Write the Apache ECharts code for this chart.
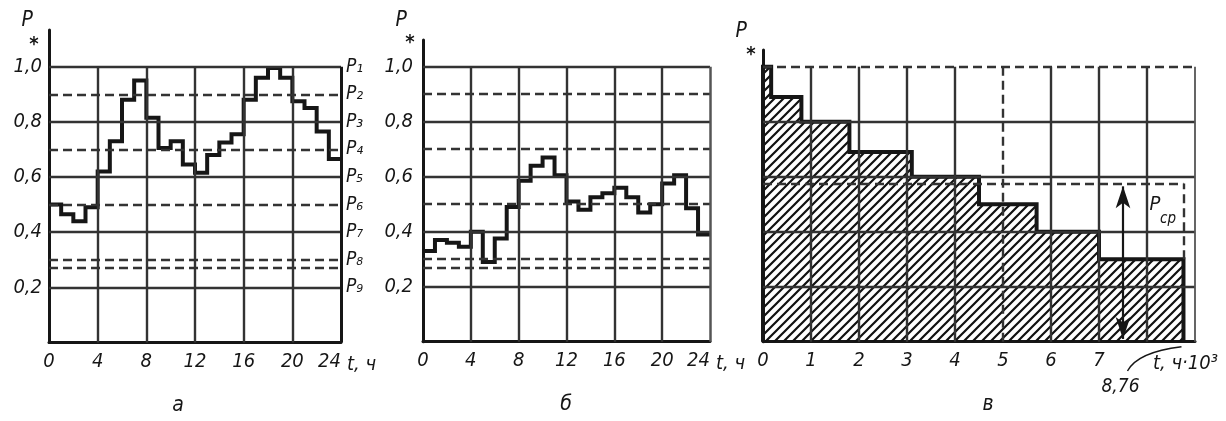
<!DOCTYPE html>
<html><head><meta charset="utf-8">
<script src="https://cdn.jsdelivr.net/npm/echarts@6/dist/echarts.min.js"></script>
<style>html,body{margin:0;padding:0;background:#fff}#c{width:1226px;height:421px}</style>
</head><body><div id="c"></div>
<script>
// ---------- data ----------
const hours = [0,1,2,3,4,5,6,7,8,9,10,11,12,13,14,15,16,17,18,19,20,21,22,23,24];
// panel а: daily load, P* per hour
const loadA = [0.50,0.465,0.44,0.49,0.62,0.73,0.88,0.95,0.815,0.705,0.73,0.645,0.615,0.68,0.725,0.755,0.88,0.96,0.995,0.96,0.875,0.85,0.765,0.665];
// panel б: daily load, P* per hour
const loadB = [0.33,0.37,0.36,0.345,0.40,0.29,0.375,0.49,0.585,0.64,0.67,0.605,0.51,0.48,0.525,0.54,0.56,0.525,0.47,0.50,0.575,0.605,0.485,0.39];
const yTickValues = [0.2,0.4,0.6,0.8,1.0];
const yTickLabels = ['0,2','0,4','0,6','0,8','1,0'];
const solidLevels = [0.2,0.4,0.6,0.8,1.0];
const dashedLevels = [0.9,0.7,0.5,0.3,0.27];
const dayGridHours = [4,8,12,16,20];
const levelValues = [1.0,0.9,0.8,0.7,0.6,0.5,0.4,0.3,0.2];
const levelNames = ['P₁','P₂','P₃','P₄','P₅','P₆','P₇','P₈','P₉'];
// panel в: annual load duration curve (t in thousands of hours)
const durT = [0,0.17,0.8,1.8,3.1,4.5,5.7,7.0,8.76];
const durP = [1.0,0.89,0.8,0.69,0.6,0.5,0.4,0.3];
const durTickLabels = ['0','1','2','3','4','5','6','7'];
const durGridSolid = [1,2,3,4,6,7,8];
const durGridDashed = [5];
const durHSolid = [0.2,0.4,0.6,0.8];
const pMean = 0.575;
const arrowT = 7.5;
const tEndLabel = '8,76';

// ---------- style ----------
const FONT = '"DejaVu Sans Condensed","DejaVu Sans",sans-serif';
const INK = '#161616', GRID = '#333333';
const solid = {color: GRID, width: 2.4, type: 'solid'};
const dashed = {color: GRID, width: 2.4, type: [9,5]};

function stepData(ts, vs){
  const d = [];
  for (let i = 0; i < vs.length; i++) d.push([ts[i], vs[i]]);
  d.push([ts[vs.length], vs[vs.length-1]]);
  return d;
}
function seg(x0,y0,x1,y1,style){ return [{coord:[x0,y0], lineStyle:style},{coord:[x1,y1]}]; }
function gridSeries(idx, lines, z){
  return {type:'line', xAxisIndex: idx, yAxisIndex: idx===0?0:idx+1, data: [], silent: true, z: z,
    markLine: {silent: true, symbol: ['none','none'], animation: false, label: {show: false}, data: lines}};
}
function dayLines(rightStyle){
  const L = [];
  solidLevels.forEach(v => L.push(seg(0,v,24,v,solid)));
  dashedLevels.forEach(v => L.push(seg(0,v,24,v,dashed)));
  dayGridHours.forEach(h => L.push(seg(h,0,h,1,solid)));
  L.push(seg(24,0,24,1,rightStyle));
  return L;
}
function yLabelFmt(v){
  const k = yTickValues.findIndex(t => Math.abs(t - v) < 1e-6);
  return k >= 0 ? yTickLabels[k] : '';
}
const labelStyle = {color: INK, fontFamily: FONT, fontStyle: 'italic', fontSize: 20};

function dayX(gi, gap){
  return {gridIndex: gi, type: 'value', min: 0, max: 24, interval: 4,
    axisLine: {show: true, onZero: false, lineStyle: {color: INK, width: 3}},
    axisTick: {show: false}, splitLine: {show: false},
    axisLabel: Object.assign({margin: 9, alignMaxLabel: 'right'}, labelStyle),
    name: 't, ч', nameLocation: 'end', nameGap: gap,
    nameTextStyle: Object.assign({verticalAlign: 'top', padding: [12,0,0,0]}, labelStyle)};
}
function leftY(gi, max, margin, showLabels){
  return {gridIndex: gi, type: 'value', min: 0, max: max, interval: 0.2,
    axisLine: {show: true, onZero: false, lineStyle: {color: INK, width: 3}},
    axisTick: {show: false}, splitLine: {show: false},
    axisLabel: Object.assign({show: showLabels, margin: margin, formatter: yLabelFmt}, labelStyle)};
}

// hatch pattern
const hatch = document.createElement('canvas');
(function(){
  const s = 9; hatch.width = s; hatch.height = s;
  const g = hatch.getContext('2d');
  g.strokeStyle = '#111'; g.lineWidth = 2.2; g.lineCap = 'square';
  g.beginPath();
  g.moveTo(-1, s+1); g.lineTo(s+1, -1);
  g.moveTo(-2, 2); g.lineTo(2, -2);
  g.moveTo(s-2, s+2); g.lineTo(s+2, s-2);
  g.stroke();
})();

const durData = [[durT[0], 0]].concat(stepData(durT, durP), [[durT[durT.length-1], 0]]);

const durLines = [];
durHSolid.forEach(v => durLines.push(seg(0,v,9,v,solid)));
durLines.push(seg(0,1,9,1,dashed));
durGridSolid.forEach(t => durLines.push(seg(t,0,t,1,solid)));
durGridDashed.forEach(t => durLines.push(seg(t,0,t,1,dashed)));
durLines.push(seg(9,0,9,1,{color:'#555', width:1.8, type:'solid'}));

const chart = echarts.init(document.getElementById('c'), null, {renderer: 'canvas'});
chart.setOption({
  animation: false,
  backgroundColor: '#fff',
  grid: [
    {left: 49, top: 30, width: 292, height: 312.5, outerBoundsMode: 'none'},
    {left: 423, top: 40, width: 287, height: 301.7, outerBoundsMode: 'none'},
    {left: 763, top: 50, width: 432, height: 291.7, outerBoundsMode: 'none'}
  ],
  xAxis: [
    dayX(0, 6),
    dayX(1, 4),
    {gridIndex: 2, type: 'value', min: 0, max: 9, interval: 1,
      axisLine: {show: true, onZero: false, lineStyle: {color: INK, width: 3}},
      axisTick: {show: false}, splitLine: {show: false},
      axisLabel: Object.assign({margin: 9, formatter: v => durTickLabels[Math.round(v)] !== undefined && Math.abs(v - Math.round(v)) < 1e-6 ? durTickLabels[Math.round(v)] : ''}, labelStyle),
      name: 't, ч·10³', nameLocation: 'end', nameGap: -42,
      nameTextStyle: Object.assign({verticalAlign: 'top', padding: [12,0,0,0]}, labelStyle)}
  ],
  yAxis: [
    leftY(0, 1.133, 7, true),
    {gridIndex: 0, type: 'value', position: 'right', min: 0, max: 1.133, interval: 0.1,
      axisLine: {show: false}, axisTick: {show: false}, splitLine: {show: false},
      axisLabel: Object.assign({margin: 5, formatter: v => { const k = levelValues.findIndex(l => Math.abs(l - v) < 1e-6); return k >= 0 ? levelNames[k] : ''; }}, labelStyle, {fontSize: 19})},
    leftY(1, 1.097, 10, true),
    leftY(2, 1.061, 8, false)
  ],
  series: [
    gridSeries(0, dayLines({color: INK, width: 3, type: 'solid'}), 1),
    {type: 'line', xAxisIndex: 0, yAxisIndex: 0, step: 'end', data: stepData(hours, loadA),
      showSymbol: false, symbol: 'none', z: 3, lineStyle: {color: INK, width: 4, join: 'miter'}},
    gridSeries(1, dayLines({color: '#555', width: 2.5, type: 'solid'}), 1),
    {type: 'line', xAxisIndex: 1, yAxisIndex: 2, step: 'end', data: stepData(hours, loadB),
      showSymbol: false, symbol: 'none', z: 3, lineStyle: {color: INK, width: 4, join: 'miter'}},
    {type: 'line', xAxisIndex: 2, yAxisIndex: 3, step: 'end', data: durData, showSymbol: false, symbol: 'none',
      z: 1, lineStyle: {width: 0, opacity: 0}, areaStyle: {color: {image: hatch, repeat: 'repeat'}, opacity: 1}},
    gridSeries(2, durLines, 2),
    {type: 'line', xAxisIndex: 2, yAxisIndex: 3, step: 'end', data: durData, showSymbol: false, symbol: 'none',
      z: 3, lineStyle: {color: INK, width: 4, join: 'miter'}},
    {type: 'line', xAxisIndex: 2, yAxisIndex: 3, data: [], silent: true, z: 4,
      markLine: {silent: true, symbol: ['none','none'], animation: false, label: {show: false},
        data: [
          seg(0, pMean, durT[durT.length-1], pMean, {color: GRID, width: 2.4, type: [9,5]}),
          seg(durT[durT.length-1], durP[durP.length-1], durT[durT.length-1], pMean, {color: GRID, width: 2.4, type: [9,5]}),
          [{coord: [arrowT, 0.01], symbol: 'arrow', symbolSize: [11, 22], lineStyle: {color: INK, width: 2.2, type: 'solid'}},
           {coord: [arrowT, pMean - 0.01], symbol: 'arrow', symbolSize: [11, 22]}]
        ]}}
  ]
});

// ---------- text annotations ----------
function txt(x, y, text, size, extra){
  return Object.assign({type: 'text', x: x, y: y, silent: true, z: 10,
    style: Object.assign({text: text, fill: INK, fontFamily: FONT, fontStyle: 'italic', fontSize: size, align: 'center', verticalAlign: 'middle'}, extra || {})});
}
const gA = chart.convertToPixel({gridIndex: 0}, [0, 0]);
const gB = chart.convertToPixel({gridIndex: 1}, [0, 0]);
const gC = chart.convertToPixel({gridIndex: 2}, [0, 0]);
const endPx = chart.convertToPixel({gridIndex: 2}, [durT[durT.length-1], 0]);
const pcpPx = chart.convertToPixel({gridIndex: 2}, [arrowT, pMean]);
const graphics = [
  txt(gA[0]-16, 21, 'P', 21, {align: 'right'}),
  txt(gA[0]-15, 45, '*', 20, {fontWeight: 'bold', fontStyle: 'normal'}),
  txt(gB[0]-16, 21, 'P', 21, {align: 'right'}),
  txt(gB[0]-13, 43, '*', 20, {fontWeight: 'bold', fontStyle: 'normal'}),
  txt(gC[0]-16, 32, 'P', 21, {align: 'right'}),
  txt(gC[0]-12, 55, '*', 20, {fontWeight: 'bold', fontStyle: 'normal'}),
  txt(178, 406, 'а', 21),
  txt(566, 405, 'б', 21),
  txt(988, 405, 'в', 21),
  txt(endPx[0]-63, 387, tEndLabel, 19),
  {type: 'bezierCurve', silent: true, z: 10,
    shape: {x1: endPx[0]-56, y1: 371, cpx1: endPx[0]-46, cpy1: 352, x2: endPx[0]-2, y2: endPx[1]+5},
    style: {stroke: INK, lineWidth: 1.5, fill: null}},
  txt(pcpPx[0]+32, pcpPx[1]+21, 'P', 20),
  txt(pcpPx[0]+45, pcpPx[1]+35, 'ср', 15)
];
chart.setOption({graphic: graphics});
</script>
</body></html>
